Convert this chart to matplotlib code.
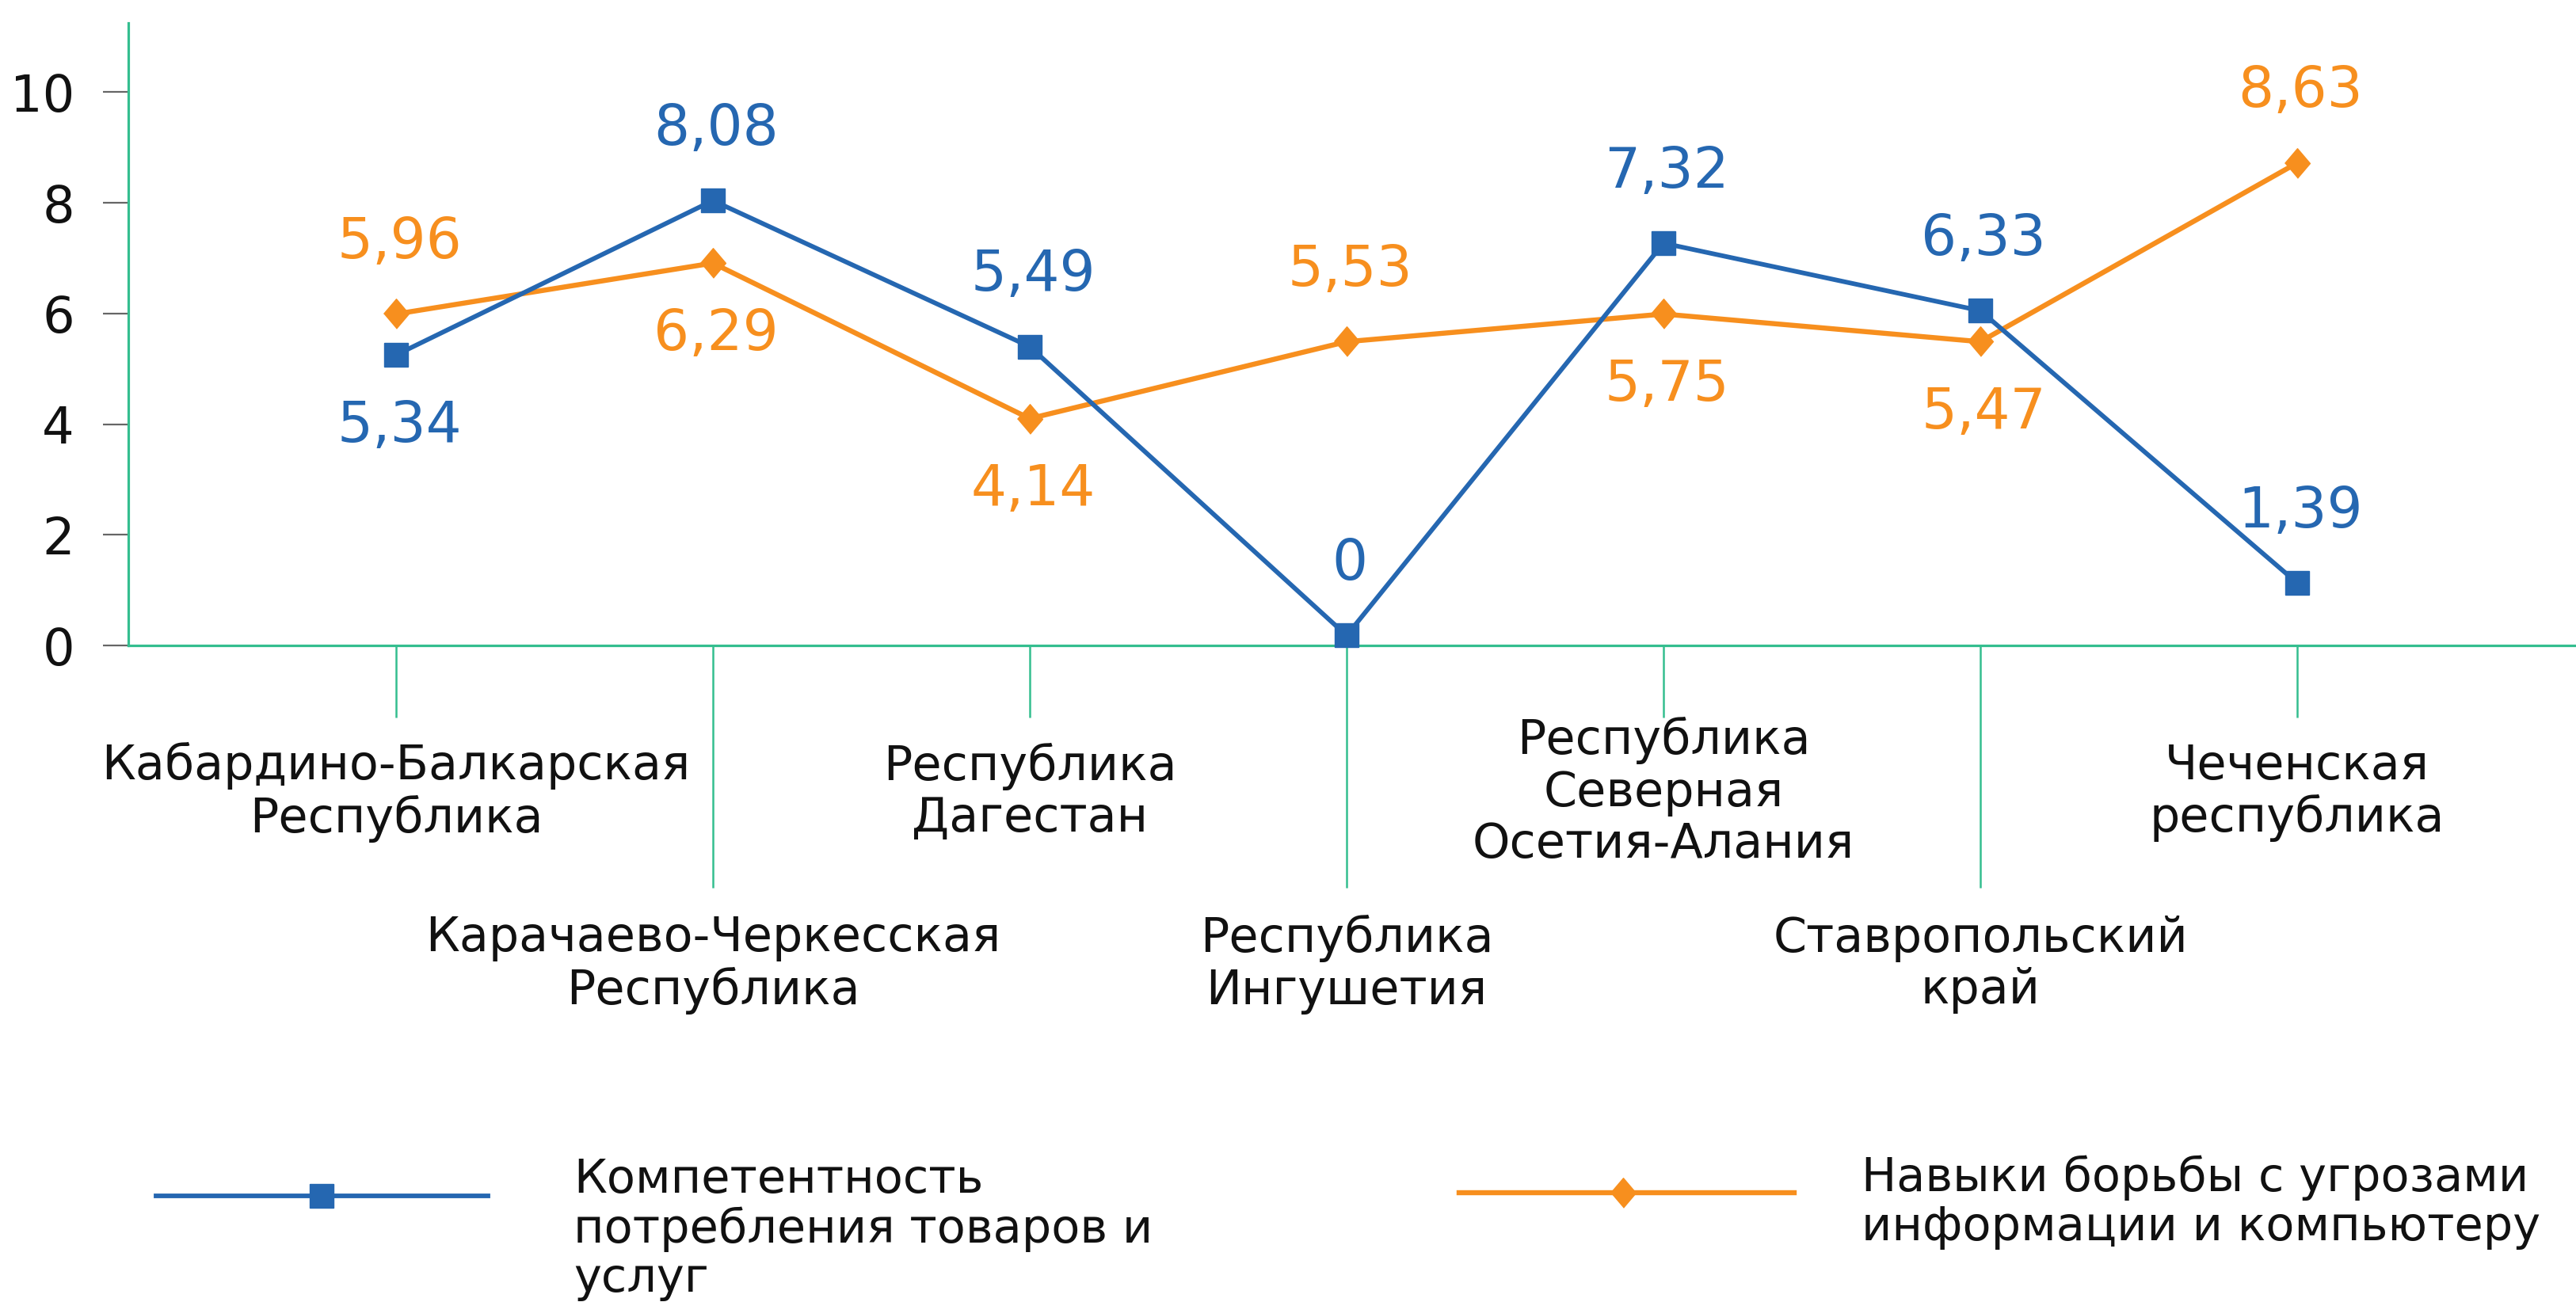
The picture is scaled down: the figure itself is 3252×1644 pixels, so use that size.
import matplotlib
matplotlib.use("Agg")
import matplotlib.pyplot as plt
from matplotlib.lines import Line2D

# ---------------- data ----------------
regions = [
    "Кабардино-Балкарская\nРеспублика",
    "Карачаево-Черкесская\nРеспублика",
    "Республика\nДагестан",
    "Республика\nИнгушетия",
    "Республика\nСеверная\nОсетия-Алания",
    "Ставропольский\nкрай",
    "Чеченская\nреспублика",
]
# positions of the markers as drawn in the picture
consumer_values = [5.25, 8.04, 5.40, 0.18, 7.27, 6.05, 1.13]
threat_values = [5.99, 6.91, 4.10, 5.49, 5.99, 5.49, 8.72]
# value labels as printed on the chart
consumer_labels = ["5,34", "8,08", "5,49", "0", "7,32", "6,33", "1,39"]
threat_labels = ["5,96", "6,29", "4,14", "5,53", "5,75", "5,47", "8,63"]
consumer_side = [-1, 1, 1, 1, 1, 1, 1]
threat_side = [1, -1, -1, 1, -1, -1, 1]
series_names = ["Компетентность\nпотребления товаров и\nуслуг",
                "Навыки борьбы с угрозами\nинформации и компьютеру"]
y_ticks = [0, 2, 4, 6, 8, 10]

# ---------------- style ----------------
BLUE = "#2567B1"
ORANGE = "#F78F1E"
TEAL = "#34BE8F"
TICKGRAY = "#666666"
TXT = "#111111"
W, H = 3252, 1644
DIAMOND = [(-0.85, 0), (0, 1), (0.85, 0), (0, -1)]

plt.rcParams["font.family"] = ["DejaVu Sans"]

fig = plt.figure(figsize=(W / 100, H / 100), dpi=100)
ax = fig.add_axes([162 / W, 829 / H, (W - 162) / W, (1615 - 829) / H])

x = list(range(len(regions)))
ax.plot(x, consumer_values, color=BLUE, lw=4.2, marker="s", ms=22,
        clip_on=False, zorder=4)
ax.plot(x, threat_values, color=ORANGE, lw=4.6, marker=DIAMOND, ms=27,
        clip_on=False, zorder=3)

for xi, v, lab, s in zip(x, consumer_values, consumer_labels, consumer_side):
    ax.annotate(lab, (xi, v), xytext=(4, 90 * s), textcoords="offset pixels",
                ha="center", va="center", fontsize=51, color=BLUE)
for xi, v, lab, s in zip(x, threat_values, threat_labels, threat_side):
    ax.annotate(lab, (xi, v), xytext=(4, 90 * s), textcoords="offset pixels",
                ha="center", va="center", fontsize=51, color=ORANGE)

ax.set_xlim(-0.845, 6.88)
ax.set_ylim(0, 11.25)

for sp in ["top", "right"]:
    ax.spines[sp].set_visible(False)
for sp in ["left", "bottom"]:
    ax.spines[sp].set_color(TEAL)
    ax.spines[sp].set_linewidth(2.3)

ax.set_yticks(y_ticks)
ax.set_yticklabels([str(t) for t in y_ticks])
ax.tick_params(axis="y", length=23, width=1.6, color=TICKGRAY, pad=26,
               labelsize=46, labelcolor=TXT)

ax.set_xticks(x[::2])
ax.set_xticklabels(regions[::2])
ax.set_xticks(x[1::2], minor=True)
ax.set_xticklabels(regions[1::2], minor=True)
ax.tick_params(axis="x", which="major", length=65.5, width=1.8, color=TEAL,
               pad=68, labelsize=43.5, labelcolor=TXT)
ax.tick_params(axis="x", which="minor", length=220, width=1.8, color=TEAL,
               pad=70, labelsize=43.5, labelcolor=TXT)
for lab in ax.get_xticklabels() + ax.get_xticklabels(minor=True):
    lab.set_va("center")
    lab.set_multialignment("center")
    lab.set_linespacing(1.14)

# ---------------- legend ----------------
def fx(px):
    return px / W


def fy(py):
    return 1 - py / H


fig.add_artist(Line2D([fx(197), fx(616)], [fy(1510), fy(1510)], color=BLUE,
                      lw=4.2, transform=fig.transFigure))
fig.add_artist(Line2D([fx(406)], [fy(1510)], color=BLUE, marker="s", ms=22,
                      lw=0, transform=fig.transFigure))
fig.text(fx(724), fy(1552), series_names[0], ha="left", va="center",
         fontsize=42.5, color=TXT, linespacing=1.12)

fig.add_artist(Line2D([fx(1842), fx(2265)], [fy(1506), fy(1506)], color=ORANGE,
                      lw=4.6, transform=fig.transFigure))
fig.add_artist(Line2D([fx(2049)], [fy(1506)], color=ORANGE, marker=DIAMOND,
                      ms=27, lw=0, transform=fig.transFigure))
fig.text(fx(2350), fy(1518), series_names[1], ha="left", va="center",
         fontsize=42.5, color=TXT, linespacing=1.12)

fig.savefig("out.png", dpi=100, facecolor="white")
